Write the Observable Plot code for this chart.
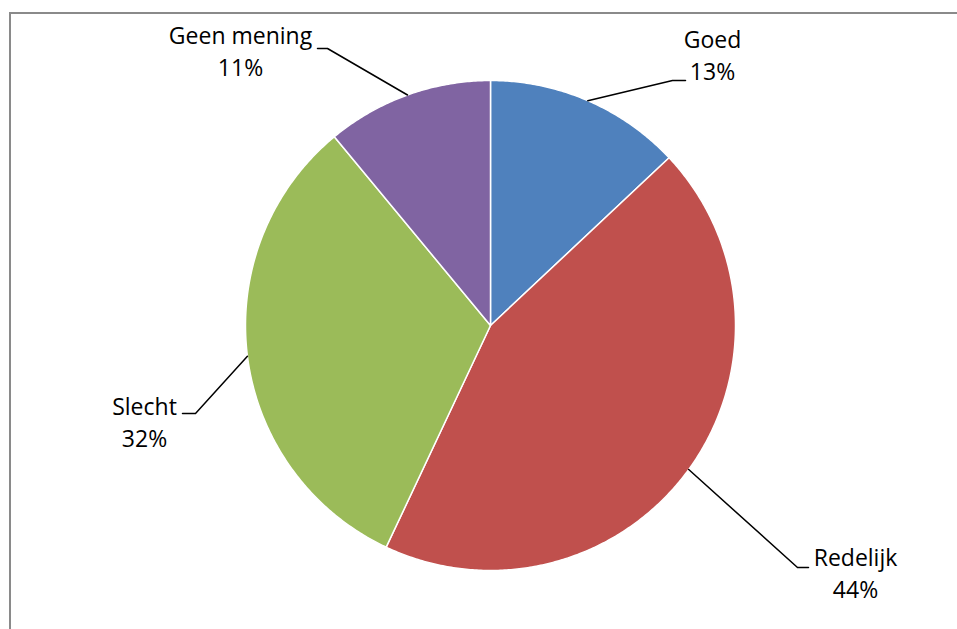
<!DOCTYPE html>
<html>
<head>
<meta charset="utf-8">
<script src="https://cdn.jsdelivr.net/npm/d3@7"></script>
<script src="https://cdn.jsdelivr.net/npm/@observablehq/plot@0.6"></script>
<style>
  html, body { margin: 0; padding: 0; background: #fff; overflow: hidden; }
  #wrap { position: relative; width: 957px; height: 629px; }
  #border { position: absolute; left: 9px; top: 12px; right: -10px; bottom: -10px;
            border-left: 2px solid #8a8a8a; border-top: 2px solid #8a8a8a; }
  #chart { position: absolute; left: 0; top: 0; }
</style>
</head>
<body>
<div id="wrap"><div id="border"></div><div id="chart"></div></div>
<script>
// ---- data ----
const categories = ["Goed", "Redelijk", "Slecht", "Geen mening"];
const values = [13, 44, 32, 11];
const percentLabels = ["13%", "44%", "32%", "11%"];
const colors = ["#4F81BD", "#C0504D", "#9BBB59", "#8064A2"];

// ---- layout (pixels, relative to pie centre) ----
const W = 957, H = 629;
const cx = 490, cy = 325, R = 245;
// leader elbow start / end and label centre, per slice
const labelLayout = {
  "Goed":        {elbow: [182, -245], end: [195, -245], text: [222, -272]},
  "Redelijk":    {elbow: [307, 242],  end: [318, 242],  text: [365, 246]},
  "Slecht":      {elbow: [-295, 88],  end: [-308, 88],  text: [-346, 95]},
  "Geen mening": {elbow: [-163, -277], end: [-173, -277], text: [-250, -276]}
};

const total = d3.sum(values);
const pt = (ang, r) => [cx + r * Math.sin(ang), cy - r * Math.cos(ang)];

// pie slice polygons
const slices = [];
const mids = [];
let acc = 0;
categories.forEach((c, i) => {
  const a0 = acc / total * 2 * Math.PI;
  acc += values[i];
  const a1 = acc / total * 2 * Math.PI;
  mids.push((a0 + a1) / 2);
  slices.push({cat: c, x: cx, y: cy});
  const n = Math.max(2, Math.ceil((a1 - a0) / (Math.PI / 360)));
  for (let k = 0; k <= n; k++) {
    const [x, y] = pt(a0 + (a1 - a0) * k / n, R);
    slices.push({cat: c, x, y});
  }
});

// leader lines
const leaders = [];
categories.forEach((c, i) => {
  const L = labelLayout[c];
  const [sx, sy] = pt(mids[i], R);
  leaders.push({cat: c, x: sx, y: sy});
  leaders.push({cat: c, x: cx + L.elbow[0], y: cy + L.elbow[1]});
  leaders.push({cat: c, x: cx + L.end[0], y: cy + L.end[1]});
});

const labels = categories.map((c, i) => ({
  cat: c,
  text: c + "\n" + percentLabels[i],
  x: cx + labelLayout[c].text[0],
  y: cy + labelLayout[c].text[1]
}));

const chart = Plot.plot({
  width: W,
  height: H,
  margin: 0,
  x: {domain: [0, W], range: [0, W], axis: null},
  y: {domain: [0, H], range: [0, H], axis: null},
  color: {domain: categories, range: colors},
  style: {background: "transparent", fontFamily: "'Open Sans', sans-serif"},
  marks: [
    Plot.line(slices, {x: "x", y: "y", z: "cat", fill: "cat", stroke: "#fff", strokeWidth: 1.5, curve: "linear-closed"}),
    Plot.line(leaders, {x: "x", y: "y", z: "cat", stroke: "#000", strokeWidth: 1.5}),
    Plot.text(labels, {x: "x", y: "y", text: "text", fontSize: 23, lineHeight: 1.43, fill: "#000", textAnchor: "middle", lineAnchor: "middle"})
  ]
});
document.getElementById("chart").appendChild(chart);
</script>
</body>
</html>
